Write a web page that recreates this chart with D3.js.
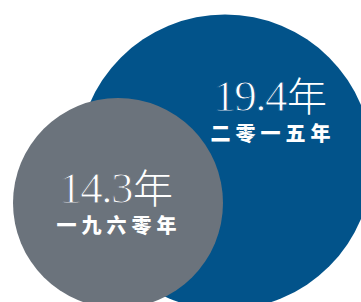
<!DOCTYPE html>
<html lang="zh">
<head>
<meta charset="utf-8">
<script src="https://d3js.org/d3.v7.min.js"></script>
<style>
  body { margin: 0; background: #fff; }
  svg { display: block; }
</style>
</head>
<body>
<script>
var width = 361;
var height = 302;

// data
var years = ["二零一五年", "一九六零年"];
var values = [19.4, 14.3];
var colors = ["#02538a", "#6b737c"];

// circle layout (blue drawn first, grey on top)
var centers = [[225, 162], [118, 203]];
var labelPos = [[270, 111], [116, 203]];

var rScale = d3.scaleLinear()
  .domain([14.3, 19.4])
  .range([105, 147.5]);

var svg = d3.select("body")
  .append("svg")
  .attr("width", width)
  .attr("height", height);

var rows = values.map(function(v, i) {
  return { year: years[i], value: v, color: colors[i], c: centers[i], t: labelPos[i] };
});

svg.selectAll("circle")
  .data(rows)
  .enter()
  .append("circle")
  .attr("cx", function(d) { return d.c[0]; })
  .attr("cy", function(d) { return d.c[1]; })
  .attr("r", function(d) { return rScale(d.value); })
  .style("fill", function(d) { return d.color; });

var labels = svg.selectAll("g.label")
  .data(rows)
  .enter()
  .append("g")
  .attr("class", "label")
  .attr("transform", function(d) { return "translate(" + d.t[0] + "," + d.t[1] + ")"; });

// big number + 年 (thin look: stroke with the circle colour eats into the glyph)
var big = labels.append("text")
  .attr("text-anchor", "middle")
  .style("fill", "#fff");
big.append("tspan")
  .style("font-family", "'Liberation Serif', serif")
  .style("font-size", "45px")
  .style("letter-spacing", "-1.5px")
  .style("stroke", function(d) { return d.color; })
  .style("stroke-width", "1px")
  .text(function(d) { return d3.format(".1f")(d.value); });
big.append("tspan")
  .attr("dx", 1)
  .style("font-family", "'Noto Sans CJK SC', sans-serif")
  .style("font-weight", "200")
  .style("font-size", "40px")
  .text("年");

// year caption
labels.append("text")
  .attr("text-anchor", "middle")
  .attr("x", 3)
  .attr("y", 30)
  .style("fill", "#fff")
  .style("font-family", "'Noto Sans CJK SC', sans-serif")
  .style("font-weight", "900")
  .style("font-size", "20px")
  .style("letter-spacing", "5px")
  .text(function(d) { return d.year; });
</script>
</body>
</html>
